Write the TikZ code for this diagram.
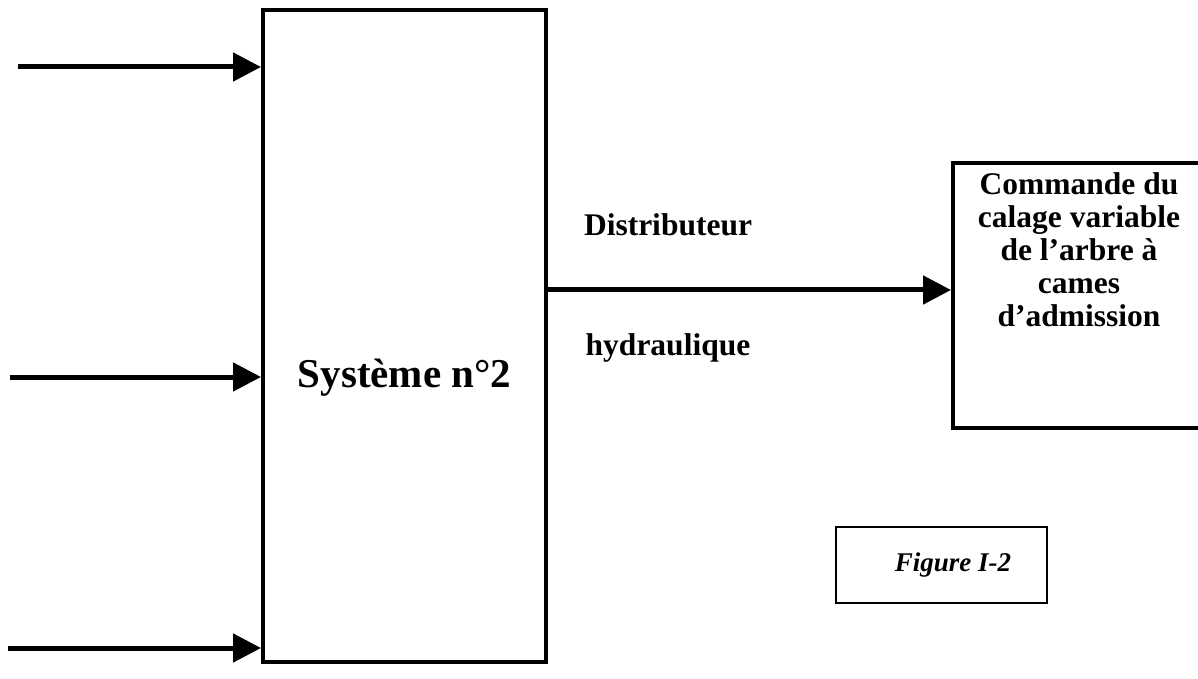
\documentclass[tikz,border=0pt]{standalone}
\usepackage{fontspec}
\setmainfont{Liberation Serif}
\usetikzlibrary{arrows.meta}
\begin{document}
\begin{tikzpicture}[x=1pt,y=1pt,
  blockbox/.style={draw=black,line width=4pt,inner sep=0pt},
  bigarrow/.style={line width=5pt,-{Triangle[length=28pt,width=28pt]}},
  lbl/.style={font=\fontsize{31.5}{33}\selectfont\bfseries,align=center,inner sep=0pt},
  figbox/.style={draw=black,line width=1.3pt,minimum width=211pt,minimum height=76pt}]
\useasboundingbox[fill=white] (0,0) rectangle (1198,678);
% main block
\node[blockbox,minimum width=283pt,minimum height=652pt] (sys) at (404.5,342) {};
\node[font=\fontsize{41}{44}\selectfont\bfseries,inner sep=0pt] (systxt) at (404.5,300) {Système n°2};
% inputs
\coordinate (in1) at (18,611);
\coordinate (in2) at (10,301);
\coordinate (in3) at (8,30);
\draw[bigarrow] (in1) -- (in1 -| sys.west);
\draw[bigarrow] (in2) -- (in2 -| sys.west);
\draw[bigarrow] (in3) -- (in3 -| sys.west);
% right block
\node[blockbox,minimum width=262pt,minimum height=264pt] (cmd) at (1084,382.5) {};
\node[lbl] (cmdtxt) at (1079,428) {Commande du\\calage variable\\de l’arbre à\\cames\\d’admission};
% output
\coordinate (out) at (0,388);
\draw[bigarrow] (sys.east |- out) -- (cmd.west |- out);
\node[lbl] (dist) at (668,453) {Distributeur};
\node[lbl] (hydr) at (668,330) {hydraulique};
% figure label
\node[figbox] (fig) at (941.5,113) {};
\node[font=\fontsize{27}{30}\selectfont\bfseries\itshape,inner sep=0pt] (figtxt) at (953,113) {Figure I-2};
\end{tikzpicture}
\end{document}
